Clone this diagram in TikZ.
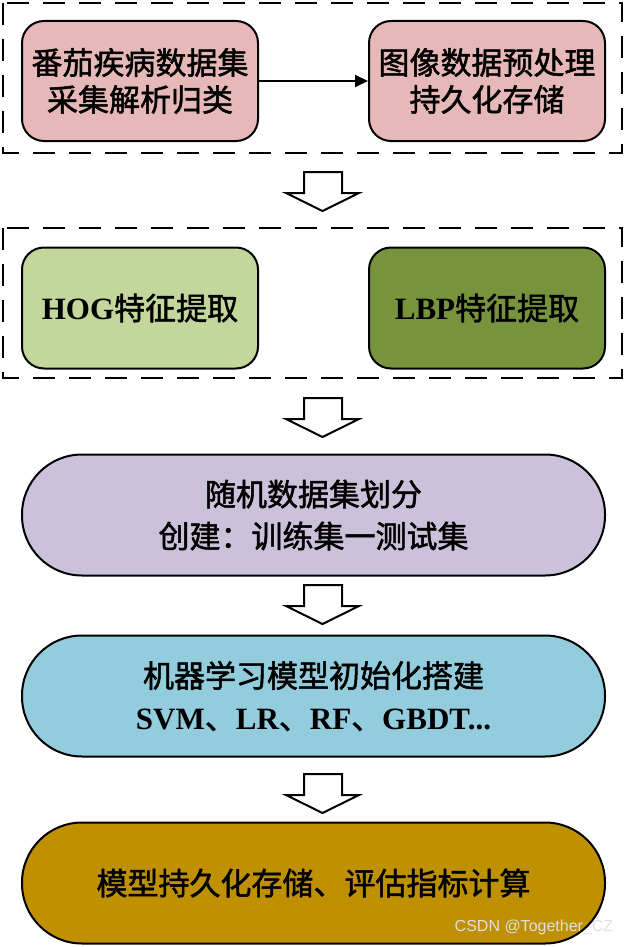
\documentclass[tikz,border=0pt]{standalone}
\usepackage{fontspec}
\setmainfont{Liberation Serif}
\newfontfamily\cjk[FakeBold=1.6]{Noto Sans CJK SC}
\newfontfamily\wmfont{Liberation Sans}
\usetikzlibrary{arrows.meta}
\definecolor{pinkf}{HTML}{E6B9B8}
\definecolor{lgreen}{HTML}{C3D69B}
\definecolor{dgreen}{HTML}{77933C}
\definecolor{lavf}{HTML}{CCC1DA}
\definecolor{bluef}{HTML}{93CDDD}
\definecolor{goldf}{HTML}{BF9000}
\tikzset{
  box/.style={draw=black, line width=2pt, rounded corners=22pt, minimum width=236pt, minimum height=120pt, align=center, inner sep=0pt, font=\fontsize{31}{37}\selectfont\cjk},
  pill/.style={draw=black, line width=2pt, rounded corners=60pt, minimum width=583pt, minimum height=121pt, align=center, inner sep=0pt, font=\fontsize{31}{42}\selectfont\cjk},
  frame/.style={draw=black, line width=2pt, dash pattern=on 22pt off 14pt},
  blockarrow/.style={draw=black, line width=2pt, fill=white, line join=miter},
}
\newcommand{\blkarrow}[1]{%
  \draw[blockarrow] (304,#1) -- (342,#1) -- (342,#1+21) -- (359,#1+21) -- (322.5,#1+39) -- (286,#1+21) -- (304,#1+21) -- cycle;}
\newcommand{\lat}[1]{{\rmfamily\bfseries #1}}
\begin{document}
\begin{tikzpicture}[x=1pt,y=-1pt]
\useasboundingbox (0,0) rectangle (626,947);
\fill[white] (0,0) rectangle (626,947);
% frame 1
\draw[frame] (3,3) rectangle (622,153);
\node[box, fill=pinkf] (b1) at (140,81) {番茄疾病数据集\\采集解析归类};
\node[box, fill=pinkf] (b2) at (487,81) {图像数据预处理\\持久化存储};
\draw[line width=2pt, -{Triangle[length=13pt,width=12pt]}] (b1) -- (b2);
\blkarrow{172}
% frame 2
\draw[frame] (3,228) rectangle (622,378);
\node[box, fill=lgreen, minimum height=121pt] (h) at (140,308) {\lat{HOG}特征提取};
\node[box, fill=dgreen, minimum height=121pt] (l) at (487,308) {\lat{LBP}特征提取};
\blkarrow{398}
\node[pill, fill=lavf] (s) at (313.5,515) {随机数据集划分\\创建：训练集一测试集};
\blkarrow{585}
\node[pill, fill=bluef] (m) at (313.5,696) {机器学习模型初始化搭建\\\lat{SVM}、\lat{LR}、\lat{RF}、\lat{GBDT...}};
\blkarrow{774}
\node[pill, fill=goldf] (e) at (313.5,883) {模型持久化存储、评估指标计算};
\node[font=\fontsize{16}{16}\selectfont\wmfont, text=white!88!black, inner sep=0pt] (wm) at (534,927) {CSDN @Together\_CZ};
\end{tikzpicture}
\end{document}
